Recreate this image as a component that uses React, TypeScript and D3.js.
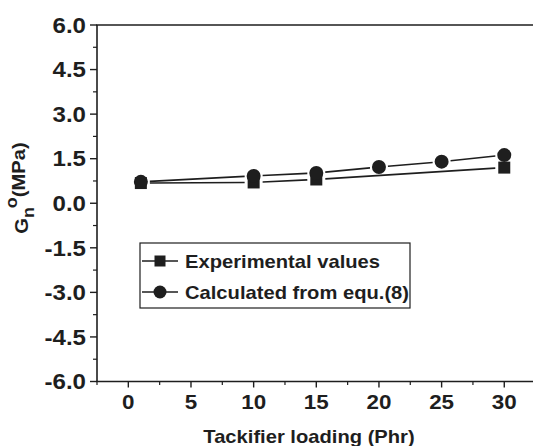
import React from "react";
import * as d3 from "d3";

// Tackifier loading (Phr) and plateau modulus values (MPa)
const expLoading = [1, 10, 15, 30];
const expValues = [0.68, 0.7, 0.8, 1.2];
const calcLoading = [1, 10, 15, 20, 25, 30];
const calcValues = [0.72, 0.92, 1.02, 1.22, 1.4, 1.62];

const xTicks = [0, 5, 10, 15, 20, 25, 30];
const yTicks = [-6.0, -4.5, -3.0, -1.5, 0.0, 1.5, 3.0, 4.5, 6.0];
const legendLabels = ["Experimental values", "Calculated from equ.(8)"];

const W = 533;
const H = 446;
const FONT = "'Liberation Sans', Arial, Helvetica, sans-serif";
const INK = "#1e1e1e";
// the lettering is a little wider than plain Liberation Sans Bold
const STRETCH = 1.12;

const x = d3.scaleLinear().domain([-2.5, 32.5]).range([97, 535.6]);
const y = d3.scaleLinear().domain([-6, 6]).range([381.5, 25]);

type Pt = [number, number];

// Line segments between neighbouring points, trimmed so they stop short of the markers
function gappedSegments(pts: Pt[], gap: number) {
  const segs: Pt[][] = [];
  for (let i = 0; i < pts.length - 1; i++) {
    const [x0, y0] = pts[i];
    const [x1, y1] = pts[i + 1];
    const len = Math.hypot(x1 - x0, y1 - y0);
    if (len <= 2 * gap) continue;
    const ux = (x1 - x0) / len;
    const uy = (y1 - y0) / len;
    segs.push([
      [x0 + ux * gap, y0 + uy * gap],
      [x1 - ux * gap, y1 - uy * gap],
    ]);
  }
  return segs;
}

const line = d3.line<Pt>();

function Square({ cx, cy, s }: { cx: number; cy: number; s: number }) {
  return <rect x={cx - s / 2} y={cy - s / 2} width={s} height={s} fill={INK} />;
}

function Label({
  x: tx,
  y: ty,
  size,
  anchor = "start",
  children,
}: {
  x: number;
  y: number;
  size: number;
  anchor?: "start" | "middle" | "end";
  children: React.ReactNode;
}) {
  return (
    <text
      transform={`translate(${tx},${ty}) scale(${STRETCH},1)`}
      textAnchor={anchor}
      fontSize={size}
      fill={INK}
    >
      {children}
    </text>
  );
}

export default function App() {
  const expPts: Pt[] = expLoading.map((d, i) => [x(d), y(expValues[i])]);
  const calcPts: Pt[] = calcLoading.map((d, i) => [x(d), y(calcValues[i])]);

  const xMinor = d3.range(-2.5, 33, 2.5).filter((v) => v % 5 !== 0);
  const yMinor = d3.range(-6, 6.01, 0.75).filter((v) => Math.abs((v / 1.5) % 1) > 0.01);

  const legendX = 140;
  const legendY = 243;
  const legendW = 270;
  const legendH = 65;
  const x0 = x.range()[0];

  return (
    <svg
      width={W}
      height={H}
      style={{ position: "absolute", left: 0, top: 0, background: "#fff" }}
      fontFamily={FONT}
      fontWeight="bold"
    >
      {/* frame: left, bottom and top edges */}
      <line x1={x0} x2={x0} y1={y(6)} y2={y(-6)} stroke={INK} strokeWidth={1.6} />
      <line x1={x0 - 0.8} x2={W} y1={y(-6)} y2={y(-6)} stroke={INK} strokeWidth={1.6} />
      <line x1={x0 - 0.8} x2={W} y1={y(6)} y2={y(6)} stroke={INK} strokeWidth={1.4} />

      {/* x axis ticks */}
      {xTicks.map((t) => (
        <g key={`xt${t}`}>
          <line x1={x(t)} x2={x(t)} y1={y(-6)} y2={y(-6) + 6} stroke={INK} strokeWidth={1.4} />
          <Label x={x(t)} y={409} size={20} anchor="middle">
            {t}
          </Label>
        </g>
      ))}
      {xMinor.map((t) => (
        <line key={`xm${t}`} x1={x(t)} x2={x(t)} y1={y(-6)} y2={y(-6) + 3.5} stroke={INK} strokeWidth={1.2} />
      ))}

      {/* y axis ticks */}
      {yTicks.map((t) => (
        <g key={`yt${t}`}>
          <line x1={x0 - 7} x2={x0} y1={y(t)} y2={y(t)} stroke={INK} strokeWidth={1.4} />
          <Label x={86} y={y(t) + 7.8} size={21.5} anchor="end">
            {t.toFixed(1)}
          </Label>
        </g>
      ))}
      {yMinor.map((t) => (
        <line key={`ym${t}`} x1={x0 - 4} x2={x0} y1={y(t)} y2={y(t)} stroke={INK} strokeWidth={1.2} />
      ))}

      {/* axis titles */}
      <Label x={309} y={443} size={18} anchor="middle">
        Tackifier loading (Phr)
      </Label>
      <text
        transform={`translate(28,188) rotate(-90) scale(${STRETCH},1)`}
        textAnchor="middle"
        fontSize={18}
        fill={INK}
      >
        <tspan>G</tspan>
        <tspan fontSize={16} dy={6}>n</tspan>
        <tspan fontSize={16} dx={-1} dy={-17}>o</tspan>
        <tspan dy={8}>(MPa)</tspan>
      </text>

      {/* series lines */}
      {gappedSegments(expPts, 9).map((s, i) => (
        <path key={`el${i}`} d={line(s) ?? ""} stroke={INK} strokeWidth={1.6} fill="none" />
      ))}
      {gappedSegments(calcPts, 9).map((s, i) => (
        <path key={`cl${i}`} d={line(s) ?? ""} stroke={INK} strokeWidth={1.6} fill="none" />
      ))}

      {/* markers */}
      {expPts.map(([cx, cy], i) => (
        <Square key={`em${i}`} cx={cx} cy={cy} s={12} />
      ))}
      {calcPts.map(([cx, cy], i) => (
        <circle key={`cm${i}`} cx={cx} cy={cy} r={7} fill={INK} />
      ))}

      {/* legend */}
      <rect x={legendX} y={legendY} width={legendW} height={legendH} fill="#fff" stroke={INK} strokeWidth={1.2} />
      {legendLabels.map((label, i) => {
        const cy = legendY + 18 + i * 31;
        return (
          <g key={label}>
            <line x1={legendX + 2} x2={legendX + 38} y1={cy} y2={cy} stroke={INK} strokeWidth={1.6} />
            {i === 0 ? (
              <Square cx={legendX + 20} cy={cy} s={11} />
            ) : (
              <circle cx={legendX + 20} cy={cy} r={6.5} fill={INK} />
            )}
            <Label x={legendX + 45} y={cy + 6.5} size={18}>
              {label}
            </Label>
          </g>
        );
      })}
    </svg>
  );
}
